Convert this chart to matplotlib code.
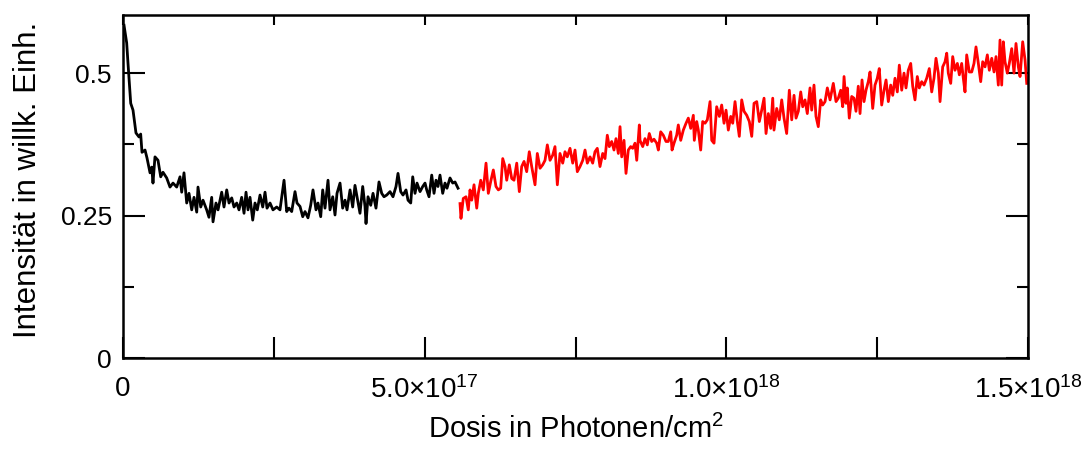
import matplotlib
matplotlib.use("Agg")
import matplotlib.pyplot as plt
from matplotlib.ticker import FixedLocator, FuncFormatter

plt.rcParams['font.family'] = ['Liberation Sans', 'DejaVu Sans']
plt.rcParams['mathtext.fontset'] = 'custom'
plt.rcParams['mathtext.rm'] = 'Liberation Sans'
plt.rcParams['mathtext.it'] = 'Liberation Sans:italic'

# dose in units of 1e17 photons/cm^2, intensity in arb. units
dose_black = [
    0.017, 0.061, 0.083, 0.128, 0.166, 0.215, 0.265, 0.293, 0.315, 0.365,
    0.398, 0.448, 0.476, 0.497, 0.530, 0.580, 0.625, 0.663, 0.724, 0.779,
    0.829, 0.890, 0.945, 0.973, 1.011, 1.056, 1.094, 1.139, 1.177, 1.222,
    1.243, 1.288, 1.326, 1.387, 1.425, 1.470, 1.492, 1.541, 1.575, 1.636,
    1.674, 1.719, 1.757, 1.802, 1.840, 1.885, 1.923, 1.967, 2.006, 2.039,
    2.072, 2.105, 2.150, 2.188, 2.226, 2.271, 2.316, 2.354, 2.387, 2.437,
    2.486, 2.548,
    2.602, 2.669, 2.713, 2.751, 2.796, 2.851, 2.884, 2.934, 2.979, 3.017,
    3.066, 3.111, 3.149, 3.199, 3.232, 3.277, 3.310, 3.348, 3.398, 3.431,
    3.476, 3.514, 3.547, 3.597, 3.641, 3.680, 3.713, 3.763, 3.807, 3.845,
    3.879, 3.928, 3.973, 4.011, 4.028, 4.061, 4.106, 4.144, 4.193, 4.243,
    4.288, 4.326, 4.371, 4.426, 4.475, 4.525, 4.558, 4.603, 4.641, 4.691,
    4.724, 4.769, 4.802, 4.840, 4.873, 4.923, 4.968, 5.006, 5.034, 5.072,
    5.117, 5.155, 5.188, 5.221, 5.254, 5.299, 5.337, 5.370, 5.420, 5.465,
    5.503, 5.553,
]
int_black = [
    0.584, 0.553, 0.517, 0.447, 0.435, 0.395, 0.388, 0.393, 0.361, 0.365,
    0.351, 0.325, 0.335, 0.307, 0.353, 0.347, 0.318, 0.326, 0.316, 0.300,
    0.307, 0.300, 0.318, 0.291, 0.325, 0.272, 0.289, 0.260, 0.282, 0.256,
    0.300, 0.265, 0.277, 0.260, 0.247, 0.282, 0.239, 0.272, 0.260, 0.291,
    0.265, 0.295, 0.272, 0.281, 0.265, 0.272, 0.260, 0.282, 0.254, 0.291,
    0.260, 0.282, 0.242, 0.272, 0.260, 0.286, 0.265, 0.291, 0.263, 0.272,
    0.260, 0.265,
    0.260, 0.312, 0.257, 0.263, 0.257, 0.292, 0.272, 0.266, 0.248, 0.257,
    0.246, 0.268, 0.295, 0.260, 0.272, 0.248, 0.295, 0.263, 0.312, 0.260,
    0.283, 0.251, 0.289, 0.307, 0.263, 0.277, 0.260, 0.295, 0.265, 0.303,
    0.283, 0.254, 0.301, 0.266, 0.236, 0.283, 0.268, 0.289, 0.263, 0.309,
    0.289, 0.283, 0.286, 0.292, 0.283, 0.301, 0.324, 0.292, 0.286, 0.295,
    0.277, 0.272, 0.318, 0.289, 0.307, 0.292, 0.301, 0.307, 0.295, 0.283,
    0.321, 0.289, 0.312, 0.301, 0.321, 0.289, 0.307, 0.298, 0.316, 0.307,
    0.309, 0.298,
]

dose_red = [
    5.586, 5.602, 5.640, 5.685, 5.723, 5.752, 5.780, 5.818, 5.863, 5.889,
    5.929, 5.972, 6.017, 6.055, 6.095, 6.138, 6.182, 6.221, 6.260, 6.294,
    6.332, 6.360, 6.403, 6.443, 6.481, 6.526, 6.569, 6.608, 6.647, 6.691,
    6.734, 6.774, 6.829, 6.867, 6.912, 6.956, 6.995, 7.033, 7.078, 7.122,
    7.160, 7.199, 7.243, 7.288, 7.326, 7.364, 7.409, 7.454, 7.492, 7.530,
    7.575, 7.620, 7.658, 7.696, 7.741, 7.785, 7.823, 7.861, 7.906, 7.951,
    7.989, 8.027, 8.060, 8.100, 8.138, 8.171, 8.210, 8.238, 8.266, 8.304,
    8.337, 8.375, 8.415, 8.448, 8.486, 8.515, 8.558,
    8.569, 8.614, 8.652, 8.690, 8.723, 8.763, 8.801, 8.846, 8.873, 8.912,
    8.955, 9.000, 9.038, 9.078, 9.100, 9.133, 9.177, 9.204, 9.244, 9.287,
    9.332, 9.370, 9.410, 9.453, 9.469, 9.509, 9.536, 9.575, 9.608, 9.647,
    9.685, 9.730, 9.758, 9.796, 9.840, 9.884, 9.923, 9.962, 9.995, 10.033,
    10.073, 10.106, 10.144, 10.182, 10.215, 10.255, 10.293, 10.338, 10.381, 10.421,
    10.459, 10.504, 10.547, 10.586, 10.625, 10.658, 10.696, 10.736, 10.769, 10.790,
    10.835, 10.878, 10.918, 10.956, 11.000, 11.044, 11.084, 11.122, 11.155, 11.193,
    11.233, 11.266, 11.304, 11.342, 11.387, 11.415, 11.453, 11.486, 11.524, 11.564,
    11.597, 11.636, 11.674,
    11.719, 11.773, 11.818, 11.856, 11.896, 11.929, 11.951, 11.984, 12.005, 12.038,
    12.078, 12.116, 12.149, 12.187, 12.216, 12.249, 12.282, 12.315, 12.353, 12.382,
    12.426, 12.464, 12.502, 12.535, 12.575, 12.614, 12.647, 12.685, 12.724, 12.758,
    12.796, 12.834, 12.867, 12.907, 12.945, 12.978, 13.016, 13.056, 13.089, 13.127,
    13.165, 13.198, 13.238, 13.277, 13.321, 13.364, 13.404, 13.442, 13.475, 13.514,
    13.542, 13.586, 13.625, 13.653, 13.679, 13.719, 13.752, 13.790, 13.829, 13.862,
    13.901, 13.928, 13.956, 13.984, 14.027, 14.067, 14.105, 14.138, 14.177, 14.216,
    14.249, 14.288, 14.326, 14.359, 14.399, 14.437, 14.470, 14.508, 14.536, 14.564,
    14.591, 14.619, 14.657, 14.690, 14.730, 14.768, 14.801, 14.840, 14.868, 14.912,
    14.951, 14.979,
]
int_red = [
    0.271, 0.245, 0.280, 0.283, 0.260, 0.295, 0.277, 0.304, 0.263, 0.289,
    0.312, 0.295, 0.342, 0.289, 0.310, 0.330, 0.301, 0.295, 0.298, 0.350,
    0.336, 0.312, 0.339, 0.315, 0.312, 0.342, 0.292, 0.336, 0.345, 0.327,
    0.362, 0.336, 0.304, 0.359, 0.333, 0.339, 0.347, 0.374, 0.347, 0.356,
    0.371, 0.304, 0.359, 0.342, 0.362, 0.353, 0.368, 0.342, 0.365, 0.327,
    0.336, 0.347, 0.365, 0.342, 0.353, 0.342, 0.362, 0.368, 0.336, 0.359,
    0.350, 0.391, 0.371, 0.380, 0.365, 0.385, 0.359, 0.406, 0.353, 0.382,
    0.324, 0.365, 0.371, 0.368, 0.377, 0.347, 0.409,
    0.382, 0.371, 0.385, 0.374, 0.394, 0.380, 0.384, 0.377, 0.365, 0.397,
    0.391, 0.380, 0.380, 0.397, 0.365, 0.377, 0.391, 0.409, 0.382, 0.400,
    0.412, 0.421, 0.403, 0.426, 0.382, 0.415, 0.400, 0.365, 0.415, 0.412,
    0.418, 0.450, 0.382, 0.377, 0.441, 0.424, 0.444, 0.412, 0.435, 0.400,
    0.424, 0.412, 0.450, 0.415, 0.389, 0.453, 0.433, 0.426, 0.415, 0.389,
    0.447, 0.450, 0.415, 0.435, 0.456, 0.394, 0.429, 0.403, 0.456, 0.400,
    0.438, 0.418, 0.453, 0.421, 0.394, 0.470, 0.418, 0.461, 0.421, 0.433,
    0.467, 0.441, 0.453, 0.429, 0.474, 0.435, 0.479, 0.424, 0.406, 0.453,
    0.444, 0.450, 0.474,
    0.453, 0.482, 0.450, 0.456, 0.470, 0.441, 0.494, 0.447, 0.474, 0.421,
    0.459, 0.456, 0.433, 0.477, 0.429, 0.488, 0.450, 0.470, 0.485, 0.502,
    0.438, 0.479, 0.491, 0.508, 0.444, 0.470, 0.488, 0.450, 0.479, 0.461,
    0.491, 0.467, 0.514, 0.470, 0.500, 0.474, 0.505, 0.517, 0.477, 0.453,
    0.494, 0.474, 0.485, 0.479, 0.491, 0.508, 0.467, 0.491, 0.526, 0.500,
    0.450, 0.511, 0.520, 0.535, 0.500, 0.482, 0.529, 0.505, 0.517, 0.497,
    0.517, 0.491, 0.467, 0.532, 0.502, 0.502, 0.517, 0.546, 0.517, 0.485,
    0.520, 0.511, 0.532, 0.505, 0.526, 0.502, 0.529, 0.479, 0.558, 0.479,
    0.555, 0.520, 0.500, 0.517, 0.543, 0.500, 0.552, 0.511, 0.494, 0.555,
    0.523, 0.482,
]

x_ticks = [0, 2.5e17, 5e17, 7.5e17, 1e18, 1.25e18, 1.5e18]
x_ticklabels = ['0', '', '5.0×10$^{17}$', '', '1.0×10$^{18}$', '', '1.5×10$^{18}$']
y_major = [0, 0.25, 0.5]
y_minor = [0.125, 0.375]
y_ticklabels = ['0', '0.25', '0.5']

fig = plt.figure(figsize=(10.89, 4.5), dpi=100)
ax = fig.add_axes([123 / 1089, 92 / 450, 905 / 1089, 343 / 450])

ax.plot([d * 1e17 for d in dose_black], int_black, color='black', lw=2.0)
ax.plot([d * 1e17 for d in dose_red], int_red, color='red', lw=2.0)

ax.set_xlim(0, 1.5e18)
ax.set_ylim(0, 0.602)

ax.xaxis.set_major_locator(FixedLocator(x_ticks))
ax.xaxis.set_major_formatter(FuncFormatter(lambda v, p: x_ticklabels[p] if p is not None and p < len(x_ticklabels) else ''))
ax.yaxis.set_major_locator(FixedLocator(y_major))
ax.yaxis.set_minor_locator(FixedLocator(y_minor))
ax.set_yticklabels(y_ticklabels)

ax.tick_params(axis='x', which='major', direction='in', bottom=True, top=False,
               length=15, width=1.5, labelsize=20, pad=13)
ax.tick_params(axis='y', which='major', direction='in', left=True, right=True,
               length=15.5, width=1.5, labelsize=19, pad=8)
ax.tick_params(axis='y', which='minor', direction='in', left=True, right=True,
               length=8, width=1.5)

# short ticks along the top edge
top = ax.secondary_xaxis('top')
top.set_xticks(x_ticks)
top.set_xticklabels([])
top.tick_params(direction='in', length=7.5, width=1.5)
top.spines['top'].set_visible(False)

for s in ax.spines.values():
    s.set_linewidth(1.8)

ax.set_xlabel('Dosis in Photonen/cm$^2$', fontsize=21, labelpad=8)
ax.set_ylabel('Intensität in willk. Einh.', fontsize=22.5)
ax.yaxis.set_label_coords(-0.088, 0.52)

fig.savefig('out.png', dpi=100)
